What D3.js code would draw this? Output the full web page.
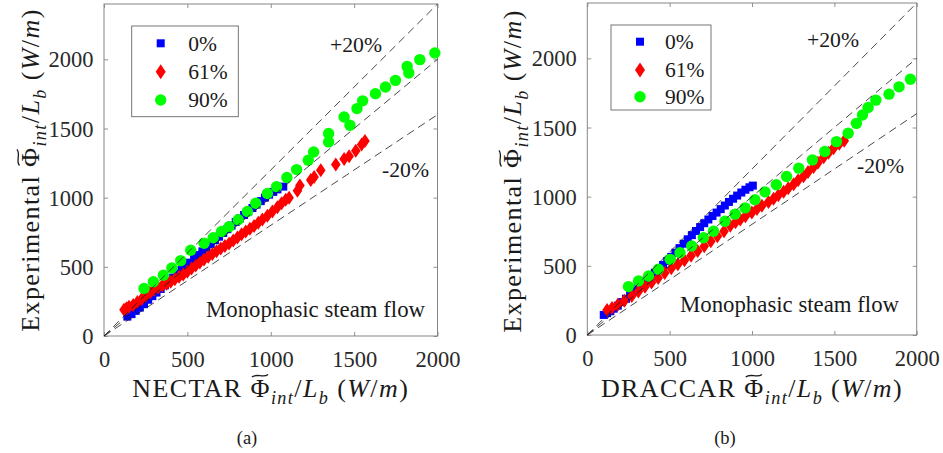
<!DOCTYPE html>
<html>
<head>
<meta charset="utf-8">
<script src="https://cdn.jsdelivr.net/npm/d3@7"></script>
<style>
  body { margin: 0; background: #fff; }
  svg { display: block; font-family: "Liberation Serif", "Times New Roman", serif; }
  text { fill: #1a1a1a; white-space: pre; }
</style>
</head>
<body>
<svg id="fig" width="943" height="453"></svg>
<script>
// ---- data ----------------------------------------------------------------
const xTicks = [0, 500, 1000, 1500, 2000];
const yTicks = [0, 500, 1000, 1500, 2000];
const seriesNames = ["0%", "61%", "90%"];
const seriesColors = ["#0000ff", "#ff0000", "#00ff00"];
const guideRatios = [1.2, 1.0, 0.8];
const guideLabels = ["+20%", "-20%"];
const flowLabel = "Monophasic steam flow";
const models = ["NECTAR", "DRACCAR"];
const captions = ["(a)", "(b)"];

// [simulated, experimental] linear heat flux, W/m
const nectar0 = [[140,140],[165,158],[190,182],[215,205],[240,230],[265,262],[290,288],[315,314],[340,340],[365,366],[390,395],[415,422],[440,450],[465,477],[490,503],[515,530],[540,558],[565,585],[590,612],[615,638],[640,665],[665,692],[690,718],[715,745],[740,772],[765,798],[790,824],[815,850],[840,875],[865,900],[890,925],[915,950],[940,975],[965,1000],[990,1022],[1015,1042],[1040,1060],[1075,1080]];
const nectar61 = [[120,190],[135,200],[150,212],[175,225],[200,245],[225,265],[250,290],[275,312],[300,335],[325,350],[350,365],[375,378],[400,392],[425,410],[450,428],[475,445],[500,465],[525,488],[550,510],[575,532],[600,553],[625,573],[650,593],[675,613],[700,633],[725,650],[750,668],[775,690],[800,712],[825,735],[850,755],[875,775],[900,795],[925,818],[950,842],[980,870],[1010,900],[1040,930],[1065,960],[1090,985],[1110,1000],[1160,1050],[1175,1088],[1240,1128],[1260,1150],[1300,1198],[1390,1240],[1440,1280],[1470,1300],[1510,1340],[1545,1385],[1565,1410]];
const nectar90 = [[240,344],[296,392],[356,440],[407,492],[460,545],[520,620],[600,670],[655,710],[705,755],[750,790],[805,840],[860,900],[910,960],[980,1030],[1035,1080],[1097,1146],[1155,1203],[1225,1271],[1257,1330],[1347,1403],[1347,1464],[1475,1523],[1440,1583],[1517,1644],[1551,1700],[1628,1752],[1688,1800],[1748,1848],[1818,1949],[1828,1901],[1894,1998],[1984,2046]];

const draccar0 = [[100,145],[120,158],[140,172],[160,190],[185,212],[210,238],[235,262],[260,288],[285,314],[310,340],[335,366],[360,395],[385,422],[410,450],[435,478],[460,506],[485,535],[510,565],[535,595],[560,628],[585,660],[610,692],[635,722],[660,752],[685,780],[710,808],[735,835],[760,860],[785,885],[810,910],[835,936],[860,962],[885,985],[910,1008],[935,1030],[960,1050],[985,1068],[1005,1080]];
const draccar61 = [[120,180],[150,195],[185,218],[225,248],[270,282],[310,315],[350,348],[390,380],[430,412],[470,448],[510,482],[550,512],[590,540],[630,573],[670,607],[710,642],[750,678],[790,713],[830,750],[868,790],[900,815],[929,835],[960,858],[999,885],[1030,910],[1060,935],[1100,962],[1131,985],[1160,1010],[1192,1035],[1220,1060],[1253,1090],[1280,1118],[1313,1148],[1340,1178],[1374,1215],[1400,1245],[1435,1285],[1465,1318],[1495,1350],[1530,1382],[1560,1405]];
const draccar90 = [[250,350],[311,391],[372,427],[432,475],[503,547],[563,595],[634,643],[705,703],[766,750],[836,822],[897,874],[958,919],[1018,978],[1079,1035],[1148,1086],[1210,1146],[1284,1206],[1367,1266],[1442,1326],[1513,1398],[1584,1458],[1634,1530],[1671,1590],[1705,1645],[1752,1698],[1832,1741],[1893,1794],[1962,1849]];

// ---- layout of the two panels --------------------------------------------
const panels = [
  { model: models[0], caption: captions[0], series: [nectar0, nectar61, nectar90],
    xr: [104, 437.5], yr: [336, 4],
    legend: { x: 131.7, y: 26, w: 106.6, h: 90.7, mx: 160.7, tx: 188.3, rows: [43.3, 71.7, 100] },
    plus: [330, 51.5], minus: [382, 176.5], flow: [206, 316.7],
    ylab: [39, 170], cap: [247, 444] },
  { model: models[1], caption: captions[1], series: [draccar0, draccar61, draccar90],
    xr: [587.3, 916.7], yr: [335, 3],
    legend: { x: 611, y: 25, w: 100, h: 85, mx: 640, tx: 665, rows: [41.7, 70, 96.7] },
    plus: [807, 46.7], minus: [857, 173], flow: [680, 311.7],
    ylab: [521, 171], cap: [725, 444] }
];

const svg = d3.select("#fig");
const frameColor = "#858585";
const labelSize = 26;

// marker shapes: square, diamond, circle
function drawMarker(sel, kind, color, big) {
  if (kind === 0) {
    const h = 4;
    sel.append("rect").attr("x", -h).attr("y", -h).attr("width", 2 * h).attr("height", 2 * h)
      .attr("fill", color);
  } else if (kind === 1) {
    const w = big ? 5 : 4.8, hh = big ? 7.5 : 7;
    sel.append("path").attr("d", `M0,${-hh}L${w},0L0,${hh}L${-w},0Z`).attr("fill", color);
  } else {
    sel.append("circle").attr("r", 5.7).attr("fill", color);
  }
}

// text with italic / subscript pieces
function rich(t, parts, size) {
  let down = false;
  parts.forEach(p => {
    const ts = t.append("tspan").text(p.t);
    if (p.i) ts.style("font-style", "italic");
    if (p.sub) {
      ts.style("font-size", (size * 0.7) + "px");
      if (!down) { ts.attr("dy", size * 0.27); down = true; }
    } else if (down) {
      ts.attr("dy", -size * 0.27); down = false;
    }
  });
}
const fluxParts = [
  { t: "\u03A6" }, { t: "int", i: true, sub: true }, { t: "/" },
  { t: "L", i: true }, { t: "b", i: true, sub: true }, { t: " (" },
  { t: "W", i: true }, { t: "/" }, { t: "m", i: true }, { t: ")" }
];

// axis title: a group placed (and rotated) as needed, the text at its origin,
// and a wide tilde accent over the Phi
function axisTitle(parent, transform, prefix) {
  const grp = parent.append("g").attr("transform", transform);
  const t = grp.append("text").attr("x", 0).attr("y", 0).attr("text-anchor", "middle")
    .style("font-size", labelSize + "px").style("letter-spacing", "1.4px");
  rich(t, [{ t: prefix }].concat(fluxParts), labelSize);
  const box = t.node().getExtentOfChar(prefix.length);
  const cx = box.x + (box.width - 1.4) / 2, w = labelSize * 0.62;
  const ty = -labelSize * 0.8, a = labelSize * 0.05;
  grp.append("path")
    .attr("d", `M${cx - w / 2},${ty + a} C${cx - w * 0.22},${ty - 2.2 * a} ${cx + w * 0.22},${ty + 2.2 * a} ${cx + w / 2},${ty - a}`)
    .attr("fill", "none").attr("stroke", "#1a1a1a").attr("stroke-width", 1.3);
}

panels.forEach(p => {
  const x = d3.scaleLinear().domain([0, 2000]).range(p.xr);
  const y = d3.scaleLinear().domain([0, 2400]).range(p.yr);
  const g = svg.append("g");
  const [x0, x1] = p.xr, [yb, yt] = p.yr;

  // axes with inward ticks on all four sides
  const tickFont = "22.5px";
  const axes = [];
  axes.push(g.append("g").attr("class", "ax-b").attr("transform", `translate(0,${yb})`)
    .call(d3.axisBottom(x).tickValues(xTicks).tickSizeInner(-4).tickSizeOuter(0).tickFormat(d3.format("d"))));
  axes.push(g.append("g").attr("class", "ax-l").attr("transform", `translate(${x0},0)`)
    .call(d3.axisLeft(y).tickValues(yTicks).tickSizeInner(-4).tickSizeOuter(0).tickFormat(d3.format("d"))));
  axes.push(g.append("g").attr("transform", `translate(0,${yt})`)
    .call(d3.axisTop(x).tickValues(xTicks).tickSizeInner(-4).tickSizeOuter(0).tickFormat("")));
  axes.push(g.append("g").attr("transform", `translate(${x1},0)`)
    .call(d3.axisRight(y).tickValues(yTicks).tickSizeInner(-4).tickSizeOuter(0).tickFormat("")));
  axes.forEach(a => a.attr("font-family", null).attr("font-size", null));
  g.selectAll(".domain").remove();
  g.selectAll(".tick line").attr("stroke", frameColor).attr("stroke-width", 0.9);
  g.select(".ax-b").selectAll("text").attr("y", 31).attr("dy", 0);
  g.select(".ax-l").selectAll("text").attr("x", -10.5).attr("dy", "0.34em");
  g.selectAll(".tick text").style("font-size", tickFont).style("fill", "#2a2a2a");

  g.append("rect").attr("x", x0).attr("y", yt).attr("width", x1 - x0).attr("height", yb - yt)
    .attr("fill", "none").attr("stroke", frameColor).attr("stroke-width", 1);

  // data points
  p.series.forEach((pts, k) => {
    g.append("g").selectAll("g").data(pts).join("g")
      .attr("transform", d => `translate(${x(d[0])},${y(d[1])})`)
      .each(function () { drawMarker(d3.select(this), k, seriesColors[k], false); });
  });

  // reference lines y = r·x
  guideRatios.forEach(r => {
    const xe = Math.min(2000, 2400 / r);
    g.append("line")
      .attr("x1", x(0)).attr("y1", y(0)).attr("x2", x(xe)).attr("y2", y(xe * r))
      .attr("stroke", "#1a1a1a").attr("stroke-width", 0.8).attr("stroke-dasharray", "8,5");
  });

  g.append("text").attr("x", p.plus[0]).attr("y", p.plus[1]).style("font-size", "21.7px").text(guideLabels[0]);
  g.append("text").attr("x", p.minus[0]).attr("y", p.minus[1]).style("font-size", "21.7px").text(guideLabels[1]);
  g.append("text").attr("x", p.flow[0]).attr("y", p.flow[1]).style("font-size", "22.8px").text(flowLabel);

  // legend
  const L = p.legend;
  g.append("rect").attr("x", L.x).attr("y", L.y).attr("width", L.w).attr("height", L.h)
    .attr("fill", "#fff").attr("stroke", "#666").attr("stroke-width", 0.9);
  seriesNames.forEach((name, k) => {
    const m = g.append("g").attr("transform", `translate(${L.mx},${L.rows[k]})`);
    drawMarker(m, k, seriesColors[k], true);
    g.append("text").attr("x", L.tx).attr("y", L.rows[k]).attr("dy", "0.34em")
      .style("font-size", "21.5px").text(name);
  });

  // axis titles
  axisTitle(g, `translate(${(x0 + x1) / 2},396.5)`, p.model + " ");
  axisTitle(g, `translate(${p.ylab[0]},${p.ylab[1]}) rotate(-90)`, "Experimental ");

  g.append("text").attr("x", p.cap[0]).attr("y", p.cap[1]).attr("text-anchor", "middle")
    .style("font-size", "18.5px").text(p.caption);
});
</script>
</body>
</html>
